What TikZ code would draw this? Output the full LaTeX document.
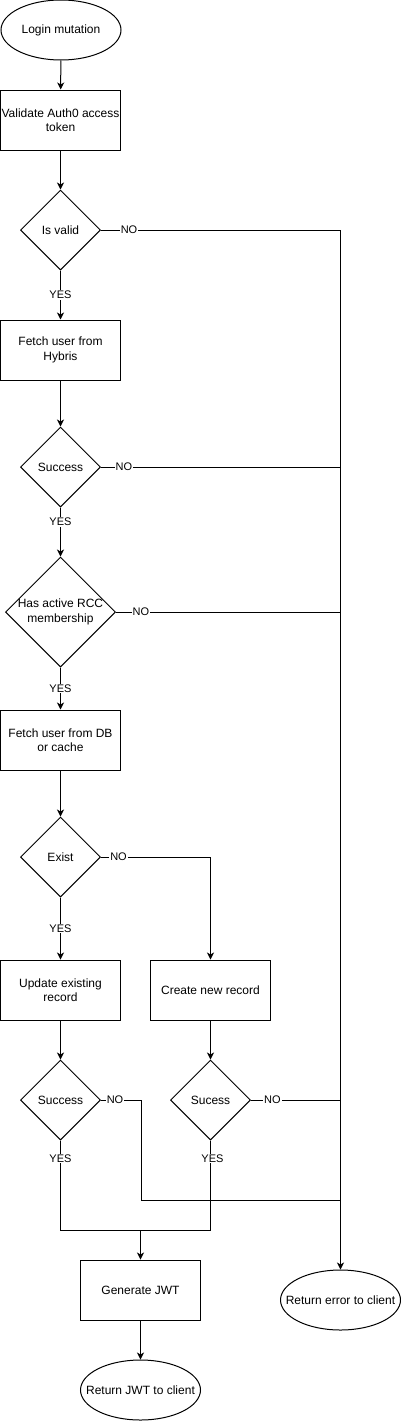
\documentclass[tikz,border=0pt]{standalone}
\usepackage{fontspec}
\setmainfont{Liberation Sans}
\usetikzlibrary{shapes.geometric,arrows.meta}
\begin{document}
\begin{tikzpicture}[x=1pt,y=-1pt,line width=1pt,
  txt/.style={font=\fontsize{12}{14.5}\selectfont,align=center,inner sep=0pt},
  box/.style={draw,txt,minimum width=120pt,minimum height=60pt},
  oval/.style={draw,ellipse,inner sep=0pt,minimum width=120pt,minimum height=60pt},
  dia/.style={draw,diamond,inner sep=0pt,minimum width=80pt,minimum height=80pt},
  lbl/.style={fill=white,font=\fontsize{11}{13}\selectfont,inner sep=1pt},
  arr/.style={-{Stealth[length=7pt,width=7pt,inset=2pt]}}]
\useasboundingbox (0,0) rectangle (401,1421);

\node[oval,label={[txt]center:Login mutation}] (login) at (61,30) {};
\node[box] (validate) at (60.5,120) {Validate Auth0 access\\token};
\node[dia,label={[txt]center:Is valid}] (isvalid) at (60.5,230) {};
\node[box] (hybris) at (60.5,350) {Fetch user from\\Hybris};
\node[dia,label={[txt]center:Success}] (succ0) at (60.5,467) {};
\node[dia,minimum width=110pt,minimum height=110pt,label={[txt]center:Has active RCC\\membership}] (rcc) at (60.5,612) {};
\node[box] (db) at (60.5,740) {Fetch user from DB\\or cache};
\node[dia,label={[txt]center:Exist}] (exist) at (60.5,857) {};
\node[box] (update) at (60.5,990) {Update existing\\record};
\node[box] (create) at (210.5,990) {Create new record};
\node[dia,label={[txt]center:Success}] (succ1) at (60.5,1100) {};
\node[dia,label={[txt]center:Sucess}] (succ2) at (210.5,1100) {};
\node[box] (jwt) at (140.5,1290) {Generate JWT};
\node[oval,label={[txt]center:Return JWT to client}] (retjwt) at (140.5,1390) {};
\node[oval,label={[txt]center:Return error to client}] (error) at (340.5,1300) {};

\coordinate (bus) at (340.5,230);
\coordinate (j2) at (340.5,1200);
\coordinate (merge) at (140.5,1230);

\draw[arr] (login) -- (validate);
\draw[arr] (validate) -- (isvalid);
\draw[arr] (isvalid) -- node[lbl]{YES} (hybris);
\draw[arr] (hybris) -- (succ0);
\draw[arr] (succ0) -- node[lbl,pos=0.3]{YES} (rcc);
\draw[arr] (rcc) -- node[lbl]{YES} (db);
\draw[arr] (db) -- (exist);
\draw[arr] (exist) -- node[lbl]{YES} (update);
\draw[arr] (exist.east) -| node[lbl,pos=0.08]{NO} (create);
\draw[arr] (update) -- (succ1);
\draw[arr] (create) -- (succ2);

\draw (isvalid.east) -- node[lbl,pos=0.117]{NO} (bus);
\draw (succ0.east) -- node[lbl,pos=0.096]{NO} (succ0.east -| bus);
\draw (rcc.east) -- node[lbl,pos=0.111]{NO} (rcc.east -| bus);
\draw (succ2.east) -- node[lbl,pos=0.24]{NO} (succ2.east -| bus);
\draw (succ1.east) -- node[lbl,pos=0.35]{NO} ++(40,0) |- (j2);
\draw[arr] (bus) -- (error);

\draw (succ1.south) |- node[lbl,pos=0.1]{YES} (merge);
\draw (succ2.south) |- node[lbl,pos=0.1,xshift=2pt]{YES} (merge);
\draw[arr] (merge) -- (jwt);
\draw[arr] (jwt) -- (retjwt);
\end{tikzpicture}
\end{document}
